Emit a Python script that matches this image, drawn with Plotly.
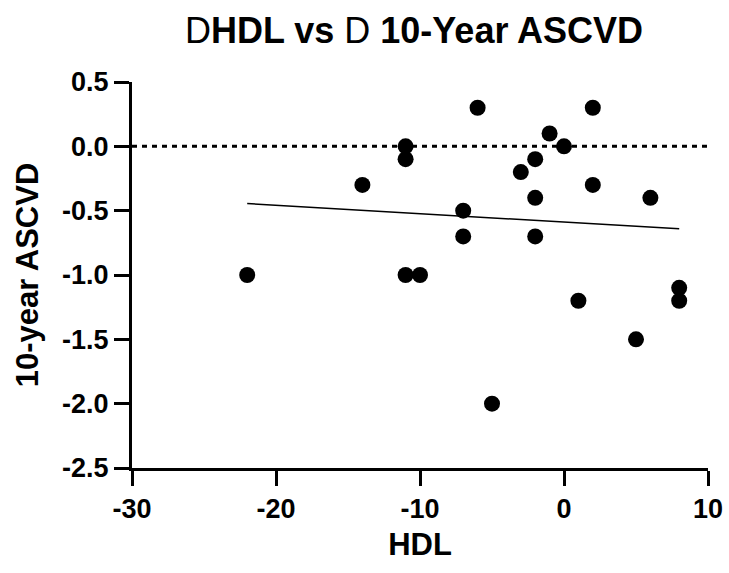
import numpy as np
import plotly.graph_objects as go

# Change in HDL (x) vs change in 10-year ASCVD risk (y), one point per subject
hdl_change = [-22, -14, -11, -11, -11, -10, -7, -7, -6, -5, -3, -2, -2, -2,
              -1, 0, 1, 2, 2, 5, 6, 8, 8]
ascvd_change = [-1.0, -0.3, 0.0, -0.1, -1.0, -1.0, -0.5, -0.7, 0.3, -2.0, -0.2,
                -0.1, -0.4, -0.7, 0.1, 0.0, -1.2, 0.3, -0.3, -1.5, -0.4, -1.1, -1.2]

x_ticks = [-30, -20, -10, 0, 10]
y_ticks = [0.5, 0.0, -0.5, -1.0, -1.5, -2.0, -2.5]
x_range = [-30, 10]
y_range = [-2.5, 0.5]
reference_y = 0.0

# least-squares line across the observed HDL range
slope, intercept = np.polyfit(hdl_change, ascvd_change, 1)
fit_x = np.array([min(hdl_change), max(hdl_change)])
fit_y = slope * fit_x + intercept

font_family = "Liberation Sans, Arial, sans-serif"

fig = go.Figure()
fig.add_trace(go.Scatter(
    x=fit_x, y=fit_y, mode="lines",
    line=dict(color="black", width=1.5),
    showlegend=False, hoverinfo="skip",
))
fig.add_trace(go.Scatter(
    x=hdl_change, y=ascvd_change, mode="markers",
    marker=dict(color="black", size=16, line=dict(width=0)),
    showlegend=False,
))
fig.add_hline(y=reference_y, line=dict(color="black", width=3, dash="5px,5px"),
              layer="below")

axis_common = dict(
    showline=True, linecolor="black", linewidth=3,
    ticks="outside", ticklen=15, tickwidth=3, tickcolor="black",
    showgrid=False, zeroline=False, automargin=False,
    tickfont=dict(family=font_family, size=27, color="black", weight="bold"),
)

fig.update_layout(
    width=729, height=573,
    plot_bgcolor="white", paper_bgcolor="white",
    margin=dict(l=132, r=21, t=82, b=105),
    title=dict(
        text="D<b>HDL vs </b>D<b> 10-Year ASCVD</b>",
        x=414 / 729, xanchor="center", y=1 - 30 / 573, yanchor="middle",
        font=dict(family=font_family, size=36, color="black"),
    ),
    xaxis=dict(
        range=x_range, tickvals=x_ticks, ticktext=[str(v) for v in x_ticks],
        title=dict(text="<b>HDL</b>", standoff=10,
                   font=dict(family=font_family, size=31, color="black")),
        **axis_common,
    ),
    yaxis=dict(
        range=y_range, tickvals=y_ticks, ticktext=[f"{v:.1f}" for v in y_ticks],
        title=dict(text="<b>10-year ASCVD</b>", standoff=15,
                   font=dict(family=font_family, size=31, color="black")),
        **axis_common,
    ),
)

fig.write_html("out.html")
